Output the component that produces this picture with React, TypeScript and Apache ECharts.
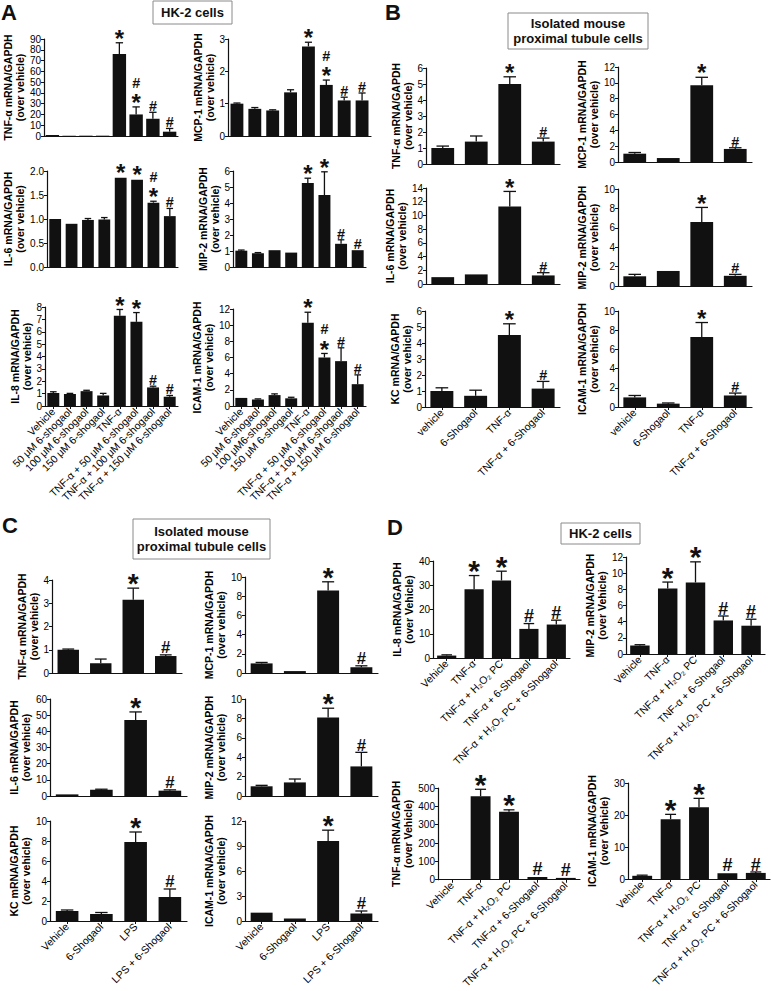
import React, { useEffect, useRef } from "react";
import * as echarts from "echarts";

const FONT = "'Liberation Sans', Arial, Helvetica, sans-serif";
const INK = "#111";

// ---------- categories ----------
const catA = ["Vehicle", "50 μM 6-shogaol", "100 μM 6-shogaol", "150 μM 6-shogaol", "TNF-α", "TNF-α + 50 μM 6-shogaol", "TNF-α + 100 μM 6-shogaol", "TNF-α + 150 μM 6-shogaol"];
const catAIcam = ["Vehicle", "50 μM 6-shogaol", "100 μM6-shogaol", "150 μM 6-shogaol", "TNF-α", "TNF-α + 50 μM 6-shogaol", "TNF-α + 100 μM 6-shogaol", "TNF-α + 150 μM 6-shogaol"];
const catB = ["vehicle", "6-Shogaol", "TNF-α", "TNF-α + 6-Shogaol"];
const catC = ["Vehicle", "6-Shogaol", "LPS", "LPS + 6-Shogaol"];
const catD = ["Vehicle", "TNF-α", "TNF-α + H₂O₂ PC", "TNF-α + 6-Shogaol", "TNF-α + H₂O₂ PC + 6-Shogaol"];

// ---------- panel A (HK-2 cells) ----------
const aTnf = [1.0, 0.3, 0.3, 0.3, 76, 20, 16, 4];
const aTnfSem = [0.1, 0.05, 0.05, 0.05, 10.5, 7, 6, 3];
const aMcp1 = [1.0, 0.84, 0.79, 1.35, 2.77, 1.58, 1.1, 1.1];
const aMcp1Sem = [0.02, 0.04, 0.02, 0.08, 0.13, 0.15, 0.1, 0.23];
const aIl6 = [1.0, 0.9, 0.98, 0.99, 1.86, 1.82, 1.34, 1.06];
const aIl6Sem = [0.01, 0.01, 0.03, 0.04, 0.01, 0.01, 0.03, 0.16];
const aMip2 = [1.02, 0.86, 1.05, 0.9, 5.25, 4.5, 1.45, 1.05];
const aMip2Sem = [0.04, 0.04, 0.03, 0.03, 0.3, 1.45, 0.25, 0.03];
const aIl8 = [1.05, 0.97, 1.2, 0.85, 7.3, 6.8, 1.5, 0.75];
const aIl8Sem = [0.1, 0.05, 0.07, 0.17, 0.5, 0.75, 0.1, 0.1];
const aIcam = [1.0, 0.8, 1.35, 0.95, 10.3, 6.0, 5.55, 2.7];
const aIcamSem = [0.05, 0.08, 0.15, 0.13, 1.3, 0.5, 1.65, 1.15];
const aMarksStarHash = ["", "", "", "", "*", "*#", "#", "#"];
const aMarksIl6 = ["", "", "", "", "*", "*", "*#", "#"];
const aMarksPlain = ["", "", "", "", "*", "*", "#", "#"];

// ---------- panel B (isolated PT cells, TNF-α) ----------
const bTnf = [1.0, 1.4, 5.0, 1.4];
const bTnfSem = [0.12, 0.35, 0.45, 0.22];
const bMcp1 = [1.05, 0.5, 9.7, 1.65];
const bMcp1Sem = [0.15, 0.05, 1.0, 0.15];
const bIl6 = [1.0, 1.4, 11.3, 1.25];
const bIl6Sem = [0.05, 0.05, 2.2, 0.4];
const bMip2 = [1.0, 1.55, 6.6, 1.05];
const bMip2Sem = [0.2, 0.05, 1.5, 0.15];
const bKc = [1.0, 0.7, 4.5, 1.15];
const bKcSem = [0.2, 0.35, 0.7, 0.45];
const bIcam = [1.0, 0.35, 7.3, 1.2];
const bIcamSem = [0.2, 0.07, 1.5, 0.25];
const bcMarks = ["", "", "*", "#"];

// ---------- panel C (isolated PT cells, LPS) ----------
const cTnf = [1.0, 0.42, 3.15, 0.73];
const cTnfSem = [0.03, 0.18, 0.5, 0.05];
const cMcp1 = [1.0, 0.2, 8.6, 0.6];
const cMcp1Sem = [0.1, 0.05, 0.9, 0.15];
const cIl6 = [1.0, 3.8, 47, 3.3];
const cIl6Sem = [0.2, 0.4, 5, 0.5];
const cMip2 = [1.0, 1.4, 8.1, 3.05];
const cMip2Sem = [0.1, 0.35, 0.95, 1.45];
const cKc = [1.0, 0.7, 7.9, 2.4];
const cKcSem = [0.1, 0.15, 1.0, 0.8];
const cIcam = [1.0, 0.3, 9.6, 0.9];
const cIcamSem = [0.05, 0.05, 1.3, 0.3];

// ---------- panel D (HK-2 cells, H2O2 PC) ----------
const dIl8 = [1.0, 28.3, 32, 12, 13.8];
const dIl8Sem = [0.3, 5.7, 3.8, 2.2, 1.8];
const dMip2 = [1.05, 8.1, 8.85, 4.15, 3.5];
const dMip2Sem = [0.1, 0.8, 2.55, 0.55, 0.8];
const dTnf = [1, 455, 370, 15, 10];
const dTnfSem = [0, 38, 11, 2, 2];
const dIcam = [1.0, 18.7, 22.4, 1.8, 1.9];
const dIcamSem = [0.2, 1.5, 2.8, 0.15, 0.3];
const dMarks = ["", "*", "*", "#", "#"];

type Spec = {
  left: number; top: number; width: number; height: number;
  cats: string[]; mean: number[]; sem: number[]; marks: string[];
  max: number; interval: number; name: string; nameGap: number;
  showLabels: boolean; gap: number; star: number; decimals?: number;
};

const ov = "(over vehicle)";
const ovD = "(over Vehicle)";

const specs: Spec[] = [
  // A
  { left: 44, top: 39, width: 134, height: 97, cats: catA, mean: aTnf, sem: aTnfSem, marks: aMarksStarHash, max: 90, interval: 10, name: "TNF-α mRNA/GAPDH\n" + ov, nameGap: 12, showLabels: false, gap: 0.2, star: 24 },
  { left: 228, top: 39, width: 143, height: 97, cats: catA, mean: aMcp1, sem: aMcp1Sem, marks: aMarksStarHash, max: 3, interval: 1, name: "MCP-1 mRNA/GAPDH\n" + ov, nameGap: 7, showLabels: false, gap: 0.28, star: 24 },
  { left: 47, top: 171, width: 131, height: 96, cats: catA, mean: aIl6, sem: aIl6Sem, marks: aMarksIl6, max: 2, interval: 0.5, name: "IL-6 mRNA/GAPDH\n" + ov, nameGap: 14, showLabels: false, gap: 0.28, star: 24, decimals: 1 },
  { left: 233, top: 171, width: 133, height: 96, cats: catA, mean: aMip2, sem: aMip2Sem, marks: aMarksPlain, max: 6, interval: 1, name: "MIP-2 mRNA/GAPDH\n" + ov, nameGap: 12, showLabels: false, gap: 0.28, star: 24 },
  { left: 45, top: 307, width: 133, height: 99, cats: catA, mean: aIl8, sem: aIl8Sem, marks: aMarksPlain, max: 8, interval: 1, name: "IL-8 mRNA/GAPDH\n" + ov, nameGap: 10, showLabels: true, gap: 0.28, star: 24 },
  { left: 233, top: 309, width: 133, height: 97, cats: catAIcam, mean: aIcam, sem: aIcamSem, marks: aMarksStarHash, max: 12, interval: 2, name: "ICAM-1 mRNA/GAPDH\n" + ov, nameGap: 13, showLabels: true, gap: 0.28, star: 24 },
  // B
  { left: 426, top: 68, width: 134, height: 96, cats: catB, mean: bTnf, sem: bTnfSem, marks: bcMarks, max: 6, interval: 1, name: "TNF-α mRNA/GAPDH\n" + ov, nameGap: 10, showLabels: false, gap: 0.32, star: 24 },
  { left: 618, top: 67, width: 134, height: 95, cats: catB, mean: bMcp1, sem: bMcp1Sem, marks: bcMarks, max: 12, interval: 2, name: "MCP-1 mRNA/GAPDH\n" + ov, nameGap: 14, showLabels: false, gap: 0.32, star: 24 },
  { left: 426, top: 188, width: 134, height: 96, cats: catB, mean: bIl6, sem: bIl6Sem, marks: bcMarks, max: 14, interval: 2, name: "IL-6 mRNA/GAPDH\n" + ov, nameGap: 15, showLabels: false, gap: 0.32, star: 24 },
  { left: 618, top: 189, width: 134, height: 97, cats: catB, mean: bMip2, sem: bMip2Sem, marks: bcMarks, max: 10, interval: 2, name: "MIP-2 mRNA/GAPDH\n" + ov, nameGap: 14, showLabels: false, gap: 0.32, star: 24 },
  { left: 425, top: 311, width: 135, height: 96, cats: catB, mean: bKc, sem: bKcSem, marks: bcMarks, max: 6, interval: 1, name: "KC mRNA/GAPDH\n" + ov, nameGap: 8, showLabels: true, gap: 0.32, star: 24 },
  { left: 618, top: 311, width: 134, height: 96, cats: catB, mean: bIcam, sem: bIcamSem, marks: bcMarks, max: 10, interval: 2, name: "ICAM-1 mRNA/GAPDH\n" + ov, nameGap: 14, showLabels: true, gap: 0.32, star: 24 },
  // C
  { left: 52, top: 580, width: 130, height: 93, cats: catC, mean: cTnf, sem: cTnfSem, marks: bcMarks, max: 4, interval: 1, name: "TNF-α mRNA/GAPDH\n" + ov, nameGap: 9, showLabels: false, gap: 0.34, star: 28 },
  { left: 245, top: 577, width: 133, height: 96, cats: catC, mean: cMcp1, sem: cMcp1Sem, marks: bcMarks, max: 10, interval: 2, name: "MCP-1 mRNA/GAPDH\n" + ov, nameGap: 14, showLabels: false, gap: 0.34, star: 28 },
  { left: 50, top: 699, width: 137, height: 97, cats: catC, mean: cIl6, sem: cIl6Sem, marks: bcMarks, max: 60, interval: 10, name: "IL-6 mRNA/GAPDH\n" + ov, nameGap: 9, showLabels: false, gap: 0.34, star: 28 },
  { left: 245, top: 699, width: 133, height: 97, cats: catC, mean: cMip2, sem: cMip2Sem, marks: bcMarks, max: 10, interval: 2, name: "MIP-2 mRNA/GAPDH\n" + ov, nameGap: 12, showLabels: false, gap: 0.34, star: 28 },
  { left: 50, top: 821, width: 137, height: 100, cats: catC, mean: cKc, sem: cKcSem, marks: bcMarks, max: 10, interval: 2, name: "KC mRNA/GAPDH\n" + ov, nameGap: 9, showLabels: true, gap: 0.34, star: 28 },
  { left: 245, top: 821, width: 133, height: 100, cats: catC, mean: cIcam, sem: cIcamSem, marks: bcMarks, max: 12, interval: 3, name: "ICAM-1 mRNA/GAPDH\n" + ov, nameGap: 14, showLabels: true, gap: 0.34, star: 28 },
  // D
  { left: 433, top: 561, width: 137, height: 97, cats: catD, mean: dIl8, sem: dIl8Sem, marks: dMarks, max: 40, interval: 10, name: "IL-8 mRNA/GAPDH\n" + ovD, nameGap: 13, showLabels: true, gap: 0.3, star: 30 },
  { left: 626, top: 557, width: 139, height: 97, cats: catD, mean: dMip2, sem: dMip2Sem, marks: dMarks, max: 12, interval: 2, name: "MIP-2 mRNA/GAPDH\n" + ovD, nameGap: 13, showLabels: true, gap: 0.3, star: 30 },
  { left: 438, top: 788, width: 142, height: 95, cats: catD, mean: dTnf, sem: dTnfSem, marks: dMarks, max: 500, interval: 100, name: "TNF-α mRNA/GAPDH\n" + ovD, nameGap: 13, showLabels: true, gap: 0.3, star: 30 },
  { left: 628, top: 783, width: 142, height: 96, cats: catD, mean: dIcam, sem: dIcamSem, marks: dMarks, max: 30, interval: 10, name: "ICAM-1 mRNA/GAPDH\n" + ovD, nameGap: 10, showLabels: true, gap: 0.3, star: 30 },
];

function buildOption() {
  const grid: any[] = [];
  const xAxis: any[] = [];
  const yAxis: any[] = [];
  const series: any[] = [];

  specs.forEach((s, i) => {
    grid.push({ left: s.left, top: s.top, width: s.width, height: s.height, containLabel: false });
    xAxis.push({
      type: "category",
      gridIndex: i,
      data: s.cats,
      axisLine: { lineStyle: { color: INK, width: 1.2 } },
      axisTick: { show: s.showLabels, alignWithLabel: true, length: 3, lineStyle: { color: INK } },
      axisLabel: {
        show: s.showLabels,
        rotate: 45,
        interval: 0,
        fontSize: 10.5,
        margin: 4,
        color: "#000",
        fontFamily: FONT,
      },
      splitLine: { show: false },
    });
    yAxis.push({
      type: "value",
      gridIndex: i,
      min: 0,
      max: s.max,
      interval: s.interval,
      name: s.name,
      nameLocation: "middle",
      nameGap: s.nameGap,
      nameTextStyle: { fontSize: 10.5, fontWeight: "bold", lineHeight: 12, color: "#000", fontFamily: FONT },
      axisLine: { show: true, lineStyle: { color: INK, width: 1.2 } },
      axisTick: { show: true, length: 3, lineStyle: { color: INK } },
      axisLabel: {
        fontSize: 10,
        margin: 3,
        color: "#000",
        fontFamily: FONT,
        formatter: (v: number) => (s.decimals ? v.toFixed(s.decimals) : String(v)),
      },
      splitLine: { show: false },
    });
    series.push({
      type: "bar",
      xAxisIndex: i,
      yAxisIndex: i,
      data: s.mean,
      barCategoryGap: Math.round(s.gap * 100) + "%",
      itemStyle: { color: INK },
      silent: true,
    });
    series.push({
      type: "custom",
      xAxisIndex: i,
      yAxisIndex: i,
      silent: true,
      z: 5,
      data: s.mean.map((m, j) => [j, m, m + s.sem[j]]),
      renderItem: (params: any, api: any) => {
        const j = params.dataIndex;
        const base = api.coord([api.value(0), api.value(1)]);
        const top = api.coord([api.value(0), api.value(2)]);
        const bw = api.size([1, 0])[0] * (1 - s.gap);
        const cap = bw * 0.55;
        const children: any[] = [];
        if (base[1] - top[1] > 0.6) {
          children.push({ type: "line", shape: { x1: base[0], y1: base[1], x2: base[0], y2: top[1] }, style: { stroke: INK, lineWidth: 1.3 } });
          children.push({ type: "line", shape: { x1: base[0] - cap / 2, y1: top[1], x2: base[0] + cap / 2, y2: top[1] }, style: { stroke: INK, lineWidth: 1.3 } });
        }
        let cur = Math.min(top[1], base[1]) - 2;
        const marks = s.marks[j] || "";
        for (let k = 0; k < marks.length; k++) {
          const ch = marks[k];
          if (ch === "*") {
            const fs = s.star;
            const h = fs * 0.36;
            const center = cur - h / 2;
            children.push({
              type: "text",
              x: base[0],
              y: center + 0.08 * fs,
              style: { text: "*", fontSize: fs, fontWeight: "bold", fontFamily: FONT, fill: INK, align: "center", verticalAlign: "middle" },
            });
            cur -= h + (k < marks.length - 1 ? 9.5 : 2);
          } else {
            const fs = s.star * 0.6;
            children.push({
              type: "text",
              x: base[0],
              y: cur + 0.2 * fs,
              style: { text: "#", fontSize: fs, fontWeight: "bold", fontFamily: FONT, fill: INK, align: "center", verticalAlign: "bottom" },
            });
            cur -= fs * 0.72 + 2;
          }
        }
        return { type: "group", children };
      },
    });
  });

  const letter = (t: string, x: number, y: number) => ({
    type: "text",
    x,
    y,
    style: { text: t, fontSize: 22, fontWeight: "bold", fontFamily: FONT, fill: INK },
  });
  const box = (lines: string, x: number, y: number, w: number, h: number) => ({
    type: "group",
    children: [
      { type: "rect", shape: { x, y, width: w, height: h }, style: { fill: "#fff", stroke: "#8a8a8a", lineWidth: 1 } },
      {
        type: "text",
        x: x + w / 2,
        y: y + h / 2,
        style: { text: lines, fontSize: 13, fontWeight: "bold", fontFamily: FONT, fill: INK, lineHeight: 15, textAlign: "center", textVerticalAlign: "middle", align: "center", verticalAlign: "middle" },
      },
    ],
  });

  const graphic = [
    letter("A", 1, 1),
    letter("B", 385, 1),
    letter("C", 2, 514),
    letter("D", 387, 516),
    box("HK-2 cells", 153, 1, 79, 23),
    box("Isolated mouse\nproximal tubule cells", 508, 13, 140, 36),
    box("Isolated mouse\nproximal tubule cells", 133, 519, 137, 40),
    box("HK-2 cells", 561, 523, 79, 21),
  ];

  return {
    animation: false,
    backgroundColor: "#fff",
    textStyle: { fontFamily: FONT },
    grid,
    xAxis,
    yAxis,
    series,
    graphic,
  };
}

export default function App() {
  const ref = useRef<HTMLDivElement>(null);
  useEffect(() => {
    document.body.style.margin = "0";
    if (!ref.current) return;
    const chart = echarts.init(ref.current, undefined, { renderer: "svg" });
    chart.setOption(buildOption() as any);
    return () => chart.dispose();
  }, []);
  return <div ref={ref} style={{ position: "absolute", left: 0, top: 0, width: 771, height: 991, background: "#fff" }} />;
}
